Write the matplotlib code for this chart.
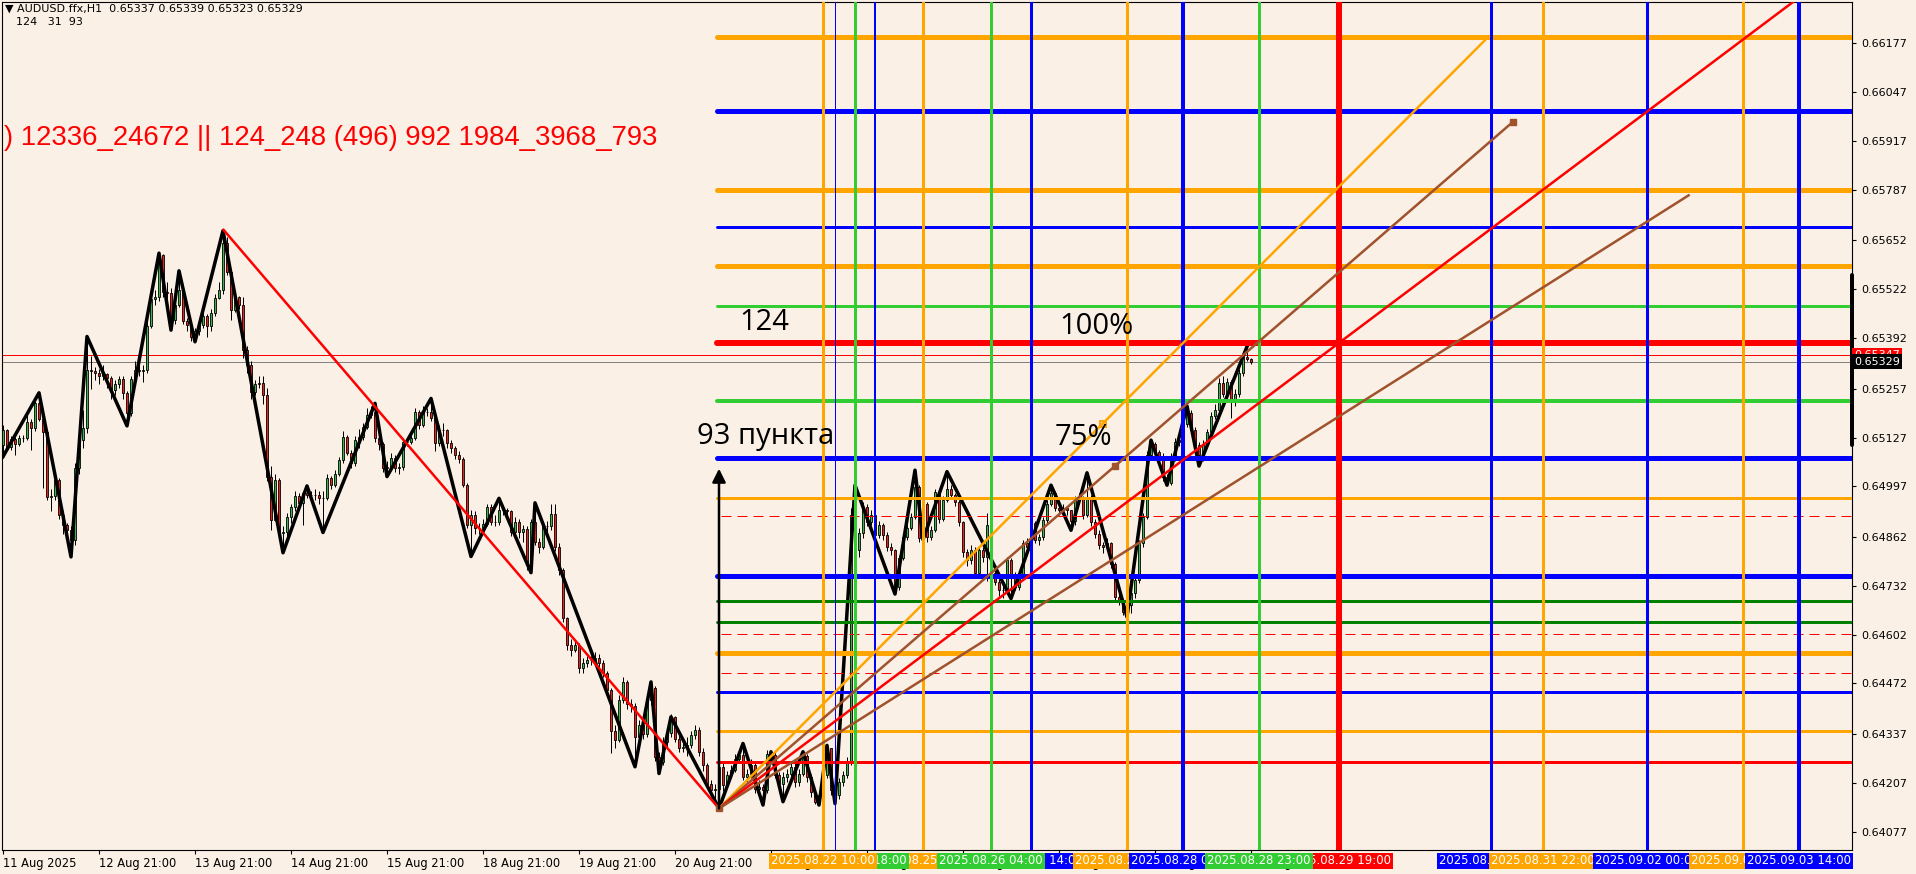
import numpy as np
import matplotlib
matplotlib.use("Agg")
import matplotlib.pyplot as plt
import matplotlib.transforms as mtransforms

W, H, DPI = 1916, 874, 100
PX = 0.72  # one pixel in points at 100 dpi
BG = "#faf0e6"
ORANGE, BLUE, GREEN, DKGREEN, RED, BROWN = "#ffa500", "#0000ff", "#32cd32", "#008000", "#ff0000", "#a0522d"

# 1. DATA  (prices in points, 1 point = 0.00001)
first_open = 65107
close_pts = [
    65147, 65101, 65122, 65111, 65125, 65126, 65169, 65151, 65218, 65175,
    65142, 64969, 64971, 65014, 64920, 64894, 64881, 64854, 65045, 65120,
    65151, 65307, 65305, 65300, 65290, 65297, 65285, 65253, 65270, 65283,
    65245, 65191, 65282, 65306, 65305, 65307, 65425, 65497, 65500, 65613,
    65515, 65511, 65440, 65480, 65520, 65436, 65427, 65396, 65410, 65426,
    65450, 65424, 65458, 65498, 65520, 65644, 65569, 65467, 65502, 65480,
    65360, 65320, 65249, 65270, 65271, 65240, 65023, 64907, 65014, 64872,
    64876, 64916, 64943, 64970, 64952, 64978, 64975, 64973, 64975, 64966,
    64965, 65018, 65001, 65030, 65067, 65129, 65087, 65058, 65121, 65129,
    65156, 65187, 65196, 65125, 65110, 65045, 65049, 65072, 65045, 65048,
    65116, 65116, 65125, 65196, 65160, 65196, 65196, 65178, 65112, 65147,
    65147, 65112, 65098, 65081, 65069, 65001, 64894, 64921, 64885, 64885,
    64897, 64943, 64903, 64903, 64934, 64934, 64930, 64876, 64903, 64876,
    64883, 64788, 64903, 64850, 64836, 64890, 64890, 64923, 64836, 64774,
    64645, 64574, 64561, 64574, 64512, 64526, 64534, 64534, 64539, 64527,
    64499, 64455, 64344, 64321, 64428, 64477, 64418, 64411, 64330, 64361,
    64338, 64427, 64460, 64276, 64263, 64316, 64339, 64383, 64325, 64299,
    64303, 64307, 64334, 64347, 64290, 64254, 64205, 64188, 64192, 64250,
    64201, 64228, 64241, 64272, 64281, 64223, 64232, 64254, 64192, 64196,
    64188, 64285, 64281, 64228, 64205, 64223, 64232, 64250, 64210, 64230,
    64280, 64223, 64183, 64157, 64174, 64228, 64299, 64187, 64174, 64210,
    64228, 64263, 64920, 64827, 64873, 64942, 64902, 64920, 64867, 64894,
    64867, 64836, 64827, 64729, 64805, 64862, 64885, 64916, 64996, 64858,
    64951, 64862, 64880, 64982, 64911, 64960, 64991, 64973, 64956, 64902,
    64822, 64800, 64827, 64765, 64827, 64809, 64893, 64765, 64743, 64720,
    64720, 64800, 64760, 64729, 64760, 64845, 64836, 64898, 64854, 64862,
    64907, 64951, 64978, 64938, 64933, 64938, 64933, 64905, 64960, 64964,
    64920, 64969, 64902, 64871, 64840, 64836, 64845, 64791, 64703, 64694,
    64663, 64680, 64712, 64747, 64845, 64916, 65080, 65110, 65089, 65077,
    65022, 65005, 65075, 65115, 65120, 65164, 65191, 65147, 65107, 65080,
    65111, 65142, 65184, 65200, 65271, 65244, 65275, 65226, 65244, 65298,
    65342, 65337, 65329,
]
high_pts = [
    65160, 65150, 65130, 65128, 65135, 65135, 65195, 65175, 65225, 65246,
    65180, 65145, 64990, 65025, 65020, 64930, 64900, 64890, 65060, 65140,
    65200, 65396, 65345, 65315, 65310, 65320, 65300, 65290, 65280, 65290,
    65290, 65250, 65290, 65330, 65320, 65320, 65440, 65505, 65520, 65618,
    65615, 65540, 65525, 65490, 65571, 65530, 65445, 65430, 65420, 65440,
    65460, 65455, 65470, 65510, 65540, 65678, 65660, 65575, 65510, 65505,
    65500, 65370, 65330, 65280, 65290, 65290, 65260, 65050, 65030, 65020,
    64890, 64925, 64950, 64985, 64980, 64985, 64998, 64985, 64990, 64985,
    64985, 65030, 65025, 65040, 65075, 65145, 65135, 65095, 65130, 65150,
    65165, 65205, 65210, 65218, 65130, 65115, 65065, 65085, 65080, 65060,
    65125, 65125, 65135, 65205, 65200, 65210, 65205, 65231, 65185, 65160,
    65165, 65150, 65120, 65105, 65090, 65075, 65005, 64935, 64930, 64900,
    64910, 64950, 64950, 64920, 64965, 64945, 64940, 64935, 64915, 64910,
    64895, 64890, 64910, 64953, 64860, 64900, 64905, 64950, 64950, 64845,
    64780, 64650, 64590, 64585, 64580, 64540, 64545, 64545, 64555, 64550,
    64535, 64505, 64460, 64360, 64440, 64490, 64480, 64430, 64420, 64375,
    64370, 64440, 64476, 64465, 64290, 64330, 64350, 64390, 64385, 64340,
    64315, 64330, 64345, 64360, 64355, 64300, 64260, 64215, 64205, 64260,
    64260, 64240, 64255, 64285, 64295, 64312, 64245, 64270, 64265, 64215,
    64205, 64295, 64290, 64290, 64235, 64235, 64245, 64265, 64260, 64245,
    64290, 64285, 64230, 64190, 64185, 64240, 64307, 64300, 64195, 64220,
    64240, 64275, 64940, 65000, 64885, 64955, 64950, 64935, 64925, 64905,
    64900, 64875, 64845, 64830, 64815, 64870, 64895, 64925, 65040, 65000,
    64960, 64955, 64890, 64990, 64985, 64970, 65036, 65000, 64980, 64960,
    64905, 64830, 64840, 64835, 64835, 64835, 64925, 64900, 64775, 64750,
    64745, 64810, 64805, 64770, 64770, 64855, 64860, 64905, 64905, 64870,
    64915, 64960, 65000, 64985, 64950, 64950, 64945, 64935, 64970, 64980,
    64970, 65033, 64975, 64910, 64880, 64850, 64860, 64850, 64795, 64715,
    64700, 64690, 64720, 64755, 64855, 64925, 65090, 65120, 65115, 65095,
    65085, 65030, 65085, 65125, 65135, 65175, 65211, 65200, 65155, 65115,
    65120, 65150, 65195, 65215, 65285, 65290, 65285, 65280, 65255, 65310,
    65355, 65369, 65339,
]
low_pts = [
    65076, 65095, 65095, 65080, 65105, 65115, 65120, 65094, 65145, 65170,
    64992, 64960, 64930, 64960, 64910, 64870, 64850, 64809, 64840, 65030,
    65100, 65140, 65255, 65280, 65270, 65280, 65260, 65230, 65240, 65260,
    65230, 65158, 65185, 65270, 65290, 65275, 65300, 65420, 65480, 65490,
    65500, 65480, 65413, 65430, 65475, 65430, 65410, 65385, 65382, 65400,
    65420, 65395, 65410, 65450, 65495, 65510, 65560, 65440, 65460, 65470,
    65340, 65300, 65230, 65240, 65260, 65215, 65010, 64880, 64905, 64860,
    64820, 64860, 64900, 64930, 64940, 64895, 64965, 64955, 64960, 64950,
    64874, 64960, 64990, 64995, 65025, 65060, 65080, 65045, 65050, 65100,
    65120, 65150, 65180, 65115, 65095, 65035, 65023, 65040, 65035, 65030,
    65040, 65105, 65110, 65120, 65150, 65155, 65185, 65170, 65090, 65105,
    65130, 65100, 65085, 65070, 65060, 64995, 64885, 64810, 64870, 64870,
    64880, 64890, 64895, 64890, 64895, 64920, 64915, 64865, 64870, 64860,
    64850, 64775, 64767, 64840, 64820, 64830, 64875, 64880, 64825, 64760,
    64635, 64560, 64545, 64555, 64500, 64500, 64515, 64520, 64525, 64515,
    64490, 64440, 64286, 64300, 64315, 64420, 64405, 64395, 64250, 64320,
    64325, 64330, 64415, 64265, 64232, 64255, 64300, 64330, 64315, 64290,
    64290, 64280, 64300, 64325, 64280, 64240, 64190, 64175, 64165, 64139,
    64185, 64195, 64220, 64235, 64265, 64215, 64210, 64220, 64180, 64175,
    64148, 64180, 64260, 64220, 64190, 64157, 64210, 64225, 64195, 64200,
    64225, 64210, 64170, 64150, 64148, 64165, 64220, 64175, 64152, 64165,
    64200, 64220, 64255, 64815, 64810, 64860, 64890, 64895, 64855, 64860,
    64855, 64825, 64815, 64710, 64720, 64800, 64855, 64880, 64910, 64850,
    64855, 64850, 64855, 64875, 64900, 64905, 64955, 64965, 64945, 64890,
    64810, 64785, 64790, 64755, 64760, 64795, 64745, 64740, 64735, 64705,
    64700, 64715, 64698, 64720, 64720, 64750, 64825, 64830, 64845, 64840,
    64855, 64900, 64945, 64930, 64920, 64925, 64920, 64880, 64895, 64950,
    64910, 64915, 64890, 64860, 64830, 64820, 64825, 64780, 64690, 64680,
    64655, 64649, 64660, 64700, 64740, 64835, 64910, 65070, 65080, 65065,
    65010, 65000, 65000, 65065, 65105, 65110, 65155, 65140, 65095, 65051,
    65065, 65100, 65135, 65175, 65190, 65235, 65240, 65180, 65210, 65235,
    65290, 65330, 65323,
]

x_ticks = list(range(0, 313, 24))
x_tick_labels = ["11 Aug 2025", "12 Aug 21:00", "13 Aug 21:00", "14 Aug 21:00",
                 "15 Aug 21:00", "18 Aug 21:00", "19 Aug 21:00", "20 Aug 21:00",
                 "21 Aug 21:00", "22 Aug 21:00", "25 Aug 21:00", "26 Aug 21:00",
                 "27 Aug 21:00", "28 Aug 21:00"]
price_ticks = [0.66177, 0.66047, 0.65917, 0.65787, 0.65652, 0.65522, 0.65392,
               0.65257, 0.65127, 0.64997, 0.64862, 0.64732, 0.64602, 0.64472,
               0.64337, 0.64207, 0.64077]

# zigzag indicator pivots
zz_bars = [0, 9, 17, 21, 31, 39, 42, 44, 48, 55, 70, 76, 80, 93, 96, 107, 117, 124,
           132, 133, 158, 162, 164, 167, 179, 185, 190, 192, 195, 200, 204, 206,
           208, 213, 223, 228, 230, 236, 252, 262, 267, 271, 281, 287, 291, 296,
           299, 311]
zz_pts = [65076, 65246, 64809, 65396, 65158, 65618, 65413, 65571, 65382, 65678,
          64820, 64998, 64874, 65218, 65023, 65231, 64810, 64965, 64767, 64953,
          64250, 64476, 64232, 64383, 64139, 64312, 64148, 64290, 64157, 64290,
          64148, 64307, 64152, 65000, 64710, 65040, 64855, 65036, 64698, 65000,
          64880, 65033, 64649, 65120, 65000, 65211, 65051, 65369]

# red trendline from the 13 Aug high down to the low
trend_bars = [55.15, 179]
trend_pts = [65680, 64139]

# fan from the low
fan_start = (179, 64139)
fan_end_bars = [371.4, 377.4, 460, 421.4]
fan_end_pts = [66195, 65967, 66387, 65772]
fan_colors = [ORANGE, BROWN, RED, BROWN]
anchor_bars = [179, 274.9, 278, 377.4]
anchor_pts = [64139, 65164, 65052, 65967]

# horizontal levels drawn from the low to the right
level_pts = [66195, 65997, 65785, 65689, 65585, 65478, 65379, 65225, 65072,
             64965, 64759, 64692, 64635, 64552, 64449, 64345, 64263]
level_colors = [ORANGE, BLUE, ORANGE, BLUE, ORANGE, GREEN, RED, GREEN, BLUE,
                ORANGE, BLUE, DKGREEN, DKGREEN, ORANGE, BLUE, ORANGE, RED]
level_px = [5, 5, 5, 3, 5, 3, 6, 4, 5, 3, 5, 3, 3, 5, 3, 3, 3]
dashed_pts = [64919, 64604, 64501]

# vertical time lines
vline_bars = [205, 208, 213, 218, 230, 247, 257, 281, 295, 314, 334, 372, 385, 411, 435, 449]
vline_colors = [ORANGE, BLUE, GREEN, BLUE, ORANGE, GREEN, BLUE, ORANGE, BLUE, GREEN,
                RED, BLUE, ORANGE, BLUE, ORANGE, BLUE]
vline_px = [3, 1, 3, 2, 3, 3, 3, 3, 4, 3, 6, 3, 3, 3, 3, 4]
vline_times = ["2025.08.22 10:00", "2025.08.22 13:00", "2025.08.22 18:00",
               "2025.08.22 23:00", "2025.08.25 11:00", "2025.08.26 04:00",
               "2025.08.26 14:00", "2025.08.27 14:00", "2025.08.28 04:00",
               "2025.08.28 23:00", "2025.08.29 19:00", "2025.08.31 09:00",
               "2025.08.31 22:00", "2025.09.02 00:00", "2025.09.03 00:00",
               "2025.09.03 14:00"]
vline_layer = [10, 5, 9, 5, 8, 9, 6, 7, 8, 9, 6, 5, 6, 7, 8, 9]

bid_pts, ask_pts = 65329, 65347
arrow_top_pts = 65044

# 2. FIGURE
fig = plt.figure(figsize=(W / DPI, H / DPI), dpi=DPI, facecolor=BG)
ax = fig.add_axes([2 / W, (H - 850) / H, 1850 / W, 848 / H], facecolor=BG)
ax.set_xlim(-0.25, 462.25)
ax.set_ylim(0.640283, 0.66287)
tr_right = mtransforms.blended_transform_factory(ax.transAxes, ax.transData)
tr_bottom = mtransforms.blended_transform_factory(ax.transData, ax.transAxes)

# bid / ask lines
ax.axhline(ask_pts / 1e5, color=RED, lw=1 * PX, zorder=1)
ax.axhline(bid_pts / 1e5, color="#808080", lw=1 * PX, zorder=1)

# 3. CANDLES
c = np.array(close_pts) / 1e5
o = np.array([first_open] + close_pts[:-1]) / 1e5
hi = np.array(high_pts) / 1e5
lo = np.array(low_pts) / 1e5
x = np.arange(len(c))
up = c >= o
ax.vlines(x, lo, hi, color="black", lw=1 * PX, zorder=2)
ax.bar(x[up], (c - o)[up], bottom=o[up], width=0.72, color="#3cb44b",
       edgecolor="black", lw=0.6, zorder=3)
ax.bar(x[~up], (o - c)[~up], bottom=c[~up], width=0.72, color="#e8221c",
       edgecolor="black", lw=0.6, zorder=3)

# zigzag
ax.plot(zz_bars, np.array(zz_pts) / 1e5, color="black", lw=3.5 * PX, zorder=3.5)

# 4. OBJECTS
ax.plot(trend_bars, np.array(trend_pts) / 1e5, color=RED, lw=2.5 * PX, zorder=4)

for p, col, w in zip(level_pts, level_colors, level_px):
    ax.plot([178.6, 470], [p / 1e5, p / 1e5], color=col, lw=w * PX,
            solid_capstyle="round", zorder=4)
for p in dashed_pts:
    ax.plot([179.5, 470], [p / 1e5, p / 1e5], color=RED, lw=1 * PX,
            dashes=(10, 6), zorder=4)

for b, col, w in zip(vline_bars, vline_colors, vline_px):
    ax.axvline(b, color=col, lw=w * PX, zorder=4)

for eb, ep, col in zip(fan_end_bars, fan_end_pts, fan_colors):
    ax.plot([fan_start[0], eb], [fan_start[1] / 1e5, ep / 1e5], color=col,
            lw=2.5 * PX, zorder=4.5)
ax.plot(anchor_bars[0], anchor_pts[0] / 1e5, "s", color=BROWN, ms=5, zorder=5)
ax.plot(anchor_bars[1], anchor_pts[1] / 1e5, "s", mfc="none", mec=ORANGE, ms=4,
        mew=1.4, zorder=5)
ax.plot(anchor_bars[2:], np.array(anchor_pts[2:]) / 1e5, "s", color=BROWN, ms=4, zorder=5)

ax.annotate("", xy=(179, arrow_top_pts / 1e5), xytext=(179, fan_start[1] / 1e5),
            arrowprops=dict(arrowstyle="-|>", color="black", lw=2.5 * PX,
                            mutation_scale=20, shrinkA=0, shrinkB=0), zorder=5)

# 5. TEXT
ax.text(0.001, 0.65925, ") 12336_24672 || 124_248 (496) 992 1984_3968_793",
        transform=tr_right, color=RED, fontsize=19.8, va="center", ha="left",
        family=["Liberation Sans Narrow", "Liberation Sans", "DejaVu Sans"], zorder=6)
big = dict(fontsize=21, color="black", va="center", ha="left",
           family=["Open Sans", "DejaVu Sans"], zorder=6)
ax.text(184, 0.65432, "124", **big)
ax.text(264, 0.65424, "100%", **big)
ax.text(173.5, 0.65131, "93 пункта", **big)
ax.text(263, 0.65128, "75%", **big)

fig.text(5 / W, 1 - 9 / H, "\u25bc AUDUSD.ffx,H1  0.65337 0.65339 0.65323 0.65329",
         fontsize=8, va="center", ha="left")
fig.text(16 / W, 1 - 22 / H, "124   31  93", fontsize=8, va="center", ha="left")

# 6. AXES
ax.set_xticks(x_ticks)
ax.set_xticklabels(x_tick_labels, ha="left", fontsize=8.3)
ax.tick_params(axis="x", direction="out", length=3, pad=2, colors="black")
ax.yaxis.tick_right()
ax.set_yticks(price_ticks)
ax.set_yticklabels([f"{p:.5f}" for p in price_ticks], fontsize=8)
ax.tick_params(axis="y", direction="out", length=3, pad=4)
for s in ax.spines.values():
    s.set_color("black")
    s.set_linewidth(0.8)

# time labels of vertical lines
for b, col, t, z in zip(vline_bars, vline_colors, vline_times, vline_layer):
    ax.text(b, -11 / 848, t, transform=tr_bottom, ha="center", va="center",
            fontsize=8.4, color="white", clip_on=False, zorder=z,
            bbox=dict(boxstyle="square,pad=0.16", fc=col, ec="none"))

# price labels on the right scale
ax.plot([1, 1], [0.65560, 0.65106], transform=tr_right, color="black",
        lw=4 * PX, solid_capstyle="round", clip_on=False, zorder=9)
ax.text(1.001, ask_pts / 1e5, f"{ask_pts / 1e5:.5f}", transform=tr_right,
        ha="left", va="center", fontsize=8, color="white", clip_on=False,
        zorder=10, bbox=dict(boxstyle="square,pad=0.2", fc=RED, ec="none"))
ax.text(1.001, bid_pts / 1e5, f"{bid_pts / 1e5:.5f}", transform=tr_right,
        ha="left", va="center", fontsize=8, color="white", clip_on=False,
        zorder=11, bbox=dict(boxstyle="square,pad=0.2", fc="black", ec="none"))

fig.savefig("out.png", dpi=DPI, facecolor=BG)
